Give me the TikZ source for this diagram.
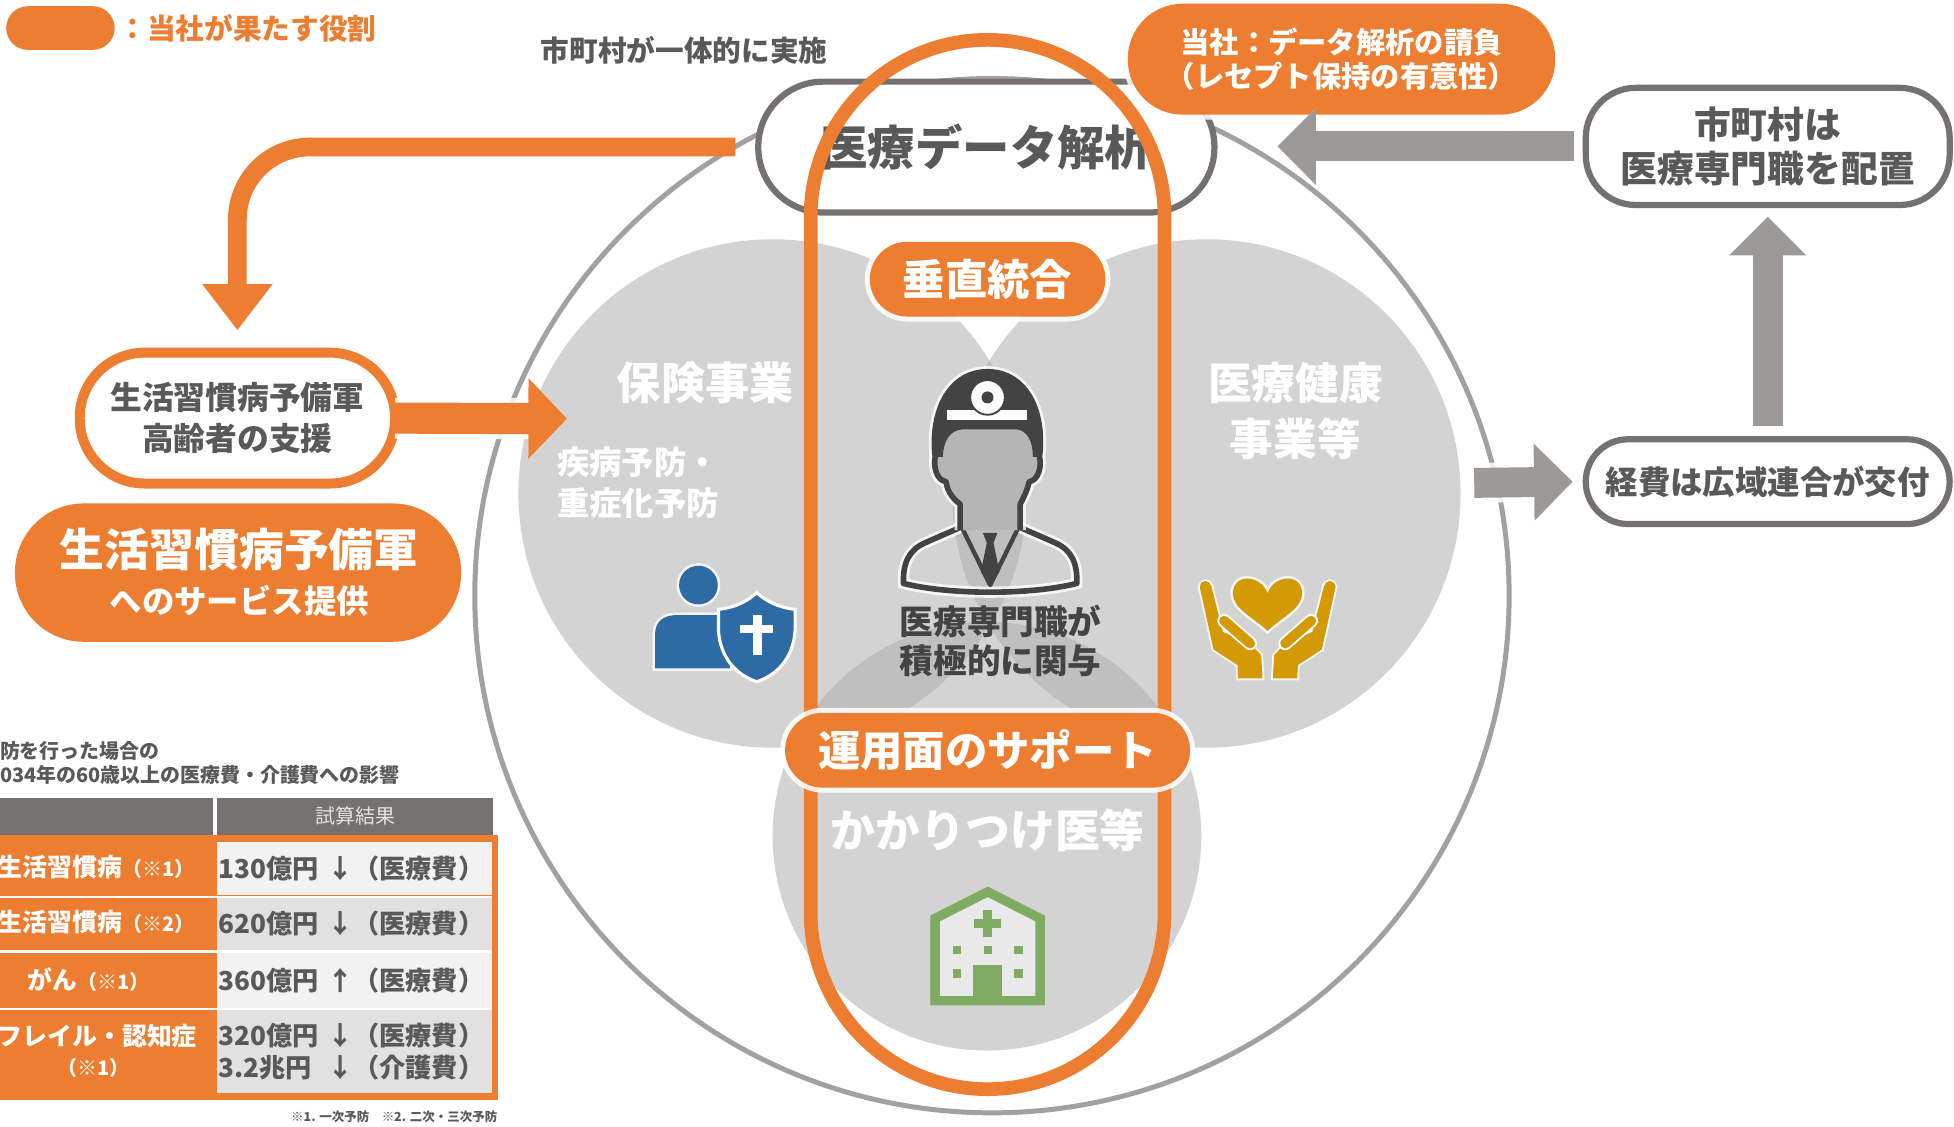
\documentclass[tikz,border=0pt]{standalone}
\usepackage{fontspec}
\setmainfont{Noto Sans CJK JP}
\usetikzlibrary{arrows.meta}
\definecolor{corange}{HTML}{ED7D31}
\definecolor{textdark}{HTML}{595959}
\definecolor{boxgray}{HTML}{767171}
\definecolor{ringgray}{HTML}{A3A09F}
\definecolor{arrowgray}{HTML}{9D9998}
\definecolor{venn}{HTML}{D3D3D3}
\definecolor{venndark}{HTML}{BFBFBF}
\definecolor{iconblue}{HTML}{2E6BA4}
\definecolor{icongold}{HTML}{D49A06}
\definecolor{icongreen}{HTML}{7FAB62}
\definecolor{docdark}{HTML}{434343}
\definecolor{docface}{HTML}{B5B5B5}
\definecolor{hdrgray}{HTML}{767171}
\definecolor{hdrtext}{HTML}{E3E3E3}
\definecolor{cellA}{HTML}{F2F2F2}
\definecolor{cellB}{HTML}{E1E1E1}
\newcommand\fsz[2]{\fontsize{#1pt}{#2pt}\selectfont}
% one cupped hand, in the icon's own units
\newcommand\cuphand{%
  \fill[icongold, preaction={draw=white, line width=3pt, opacity=0.8}] (166,860) circle (17);
  \fill[icongold, preaction={draw=white, line width=3pt, opacity=0.8}] (149,862) -- (183,856) -- (218,995) -- (305,1035) -- (333,1065)
    -- (337,1135) -- (264,1135) -- (262,1095) -- (190,1048) -- cycle;
  \fill[icongold] (166,860) circle (17);
  \draw[icongold, line width=8pt, line cap=round,
    preaction={draw=white, line width=11pt, line cap=round}] (222,962) -- (300,1030);
}

\begin{document}
\begin{tikzpicture}[x=1pt, y=-1pt,
  base/.style={inner sep=0pt, outer sep=0pt, align=center},
  halo/.style={preaction={draw=white, line width=8pt, opacity=0.85}},
  pill/.style={base, fill=corange, text=white},
  outlinebox/.style={base, fill=white, draw=boxgray, line width=5pt, text=textdark},
  whitelabel/.style={base, text=white},
  grayarrow/.style={draw=arrowgray, line width=24pt, -{Triangle[width=60pt,length=31pt]},
    preaction={draw=white, line width=32pt, opacity=0.85}},
  orangearrow/.style={draw=corange, line width=25pt, -{Triangle[width=63pt,length=31pt]},
    preaction={draw=white, line width=33pt, opacity=0.85}},
  cellR/.style={base, anchor=north west, minimum width=220.5pt, text width=218pt,
    inner xsep=1pt, align=left, text=textdark, font=\fsz{21}{25.4}\bfseries}
]
\useasboundingbox (0,0) rectangle (1568,904);
\fill[white] (0,0) rectangle (1568,904);

% outer ring
\draw[ringgray, line width=4pt] (796,478) circle (415);

% three overlapping fields
\fill[venn] (620,396) circle (204);
\fill[venn] (968,396) circle (204);
\fill[venn] (792,671) circle (172);
\begin{scope}
  \clip (620,396) circle (204);
  \fill[venndark] (968,396) circle (204);
  \fill[venndark] (792,671) circle (172);
\end{scope}
\begin{scope}
  \clip (968,396) circle (204);
  \fill[venndark] (792,671) circle (172);
\end{scope}

% field labels
\node[whitelabel, font=\fsz{35.5}{40}\bfseries] (hoken) at (566,307) {保険事業};
\node[whitelabel, anchor=west, align=left, font=\fsz{26}{33}\bfseries] (yobou) at (447,387.5) {疾病予防・\\重症化予防};
\node[whitelabel, font=\fsz{35}{45}\bfseries] (kenkou) at (1039.5,329.5) {医療健康\\事業等};
\node[whitelabel, font=\fsz{36}{40}\bfseries] (kakari) at (792.5,666) {かかりつけ医等};

% data analysis box
\node[outlinebox, rounded corners=52pt, minimum width=366pt, minimum height=105pt,
  font=\fsz{38}{44}\bfseries] (analysis) at (791.5,118) {医療データ解析};

% vertical integration band
\node[base, draw=corange, line width=11pt, rounded corners=141.9pt,
  minimum width=284pt, minimum height=842pt] (vert) at (792.5,453) {};

% person with shield
\begin{scope}[shift={(401.3,280.9)}, scale=0.2675]
  \fill[iconblue, preaction={draw=white, line width=4pt, opacity=0.8}] (595,705) circle (58);
  \fill[iconblue, preaction={draw=white, line width=4pt, opacity=0.8}] (465,955) -- (465,852)
    .. controls (465,815) and (490,795) .. (530,795) -- (690,795) -- (690,955) -- cycle;
  \filldraw[fill=iconblue, draw=white, line width=2.5pt] (655,778)
    .. controls (705,772) and (740,755) .. (770,728)
    .. controls (800,755) and (835,772) .. (885,778) -- (885,840)
    .. controls (880,925) and (830,975) .. (770,995)
    .. controls (710,975) and (660,925) .. (655,840) -- cycle;
  \fill[white] (760,795) rectangle (785,915);
  \fill[white] (720,825) rectangle (820,850);
\end{scope}

% heart in hands
\begin{scope}[shift={(922.95,240.8)}, scale=0.2675]
  \fill[icongold, preaction={draw=white, line width=4pt, opacity=0.8}] (352,880)
    .. controls (335,825) and (248,815) .. (248,882)
    .. controls (250,925) and (305,950) .. (352,992)
    .. controls (399,950) and (454,925) .. (456,882)
    .. controls (456,815) and (369,825) .. (352,880) -- cycle;
  \begin{scope}
    \cuphand
  \end{scope}
  \begin{scope}[shift={(705,0)}, xscale=-1]
    \cuphand
  \end{scope}
\end{scope}

% clinic building
\begin{scope}[shift={(601.9,561.8)}, scale=0.2675]
  \fill[white, opacity=0.5] (555,902) -- (555,655) -- (713,575) -- (870,655) -- (870,902) -- cycle;
  \draw[icongreen, line width=7.5pt] (555,902) -- (555,655) -- (713,575) -- (870,655) -- (870,902) -- cycle;
  \fill[icongreen] (700,630) rectangle (726,710);
  \fill[icongreen] (673,657) rectangle (753,683);
  \foreach \wx/\wy in {620/750, 713/750, 805/750, 620/820, 805/820}
    \fill[icongreen] (\wx-12.5,\wy-12.5) rectangle (\wx+12.5,\wy+12.5);
  \fill[icongreen] (670,795) rectangle (755,905);
\end{scope}

% doctor
\begin{scope}[shift={(682.2,240.8)}, scale=0.2675]
  \draw[docdark, line width=4.5pt, line join=round,
    preaction={draw=white, line width=9pt, opacity=0.8}]
    (335,680) -- (225,728) .. controls (175,750) and (158,790) .. (160,850)
    .. controls (300,885) and (540,885) .. (680,850)
    .. controls (682,790) and (665,750) .. (615,728) -- (505,680);
  \draw[docdark, line width=3.5pt, line join=round] (335,682) -- (420,855) -- (505,682);
  \fill[docdark] (398,698) -- (442,698) -- (430,728) -- (448,815) -- (420,858)
    -- (392,815) -- (410,728) -- cycle;
  \filldraw[fill=docface, draw=docdark, line width=4.5pt, line join=round,
    preaction={draw=white, line width=9pt, opacity=0.8}]
    (330,690) -- (330,612) .. controls (300,590) and (290,565) .. (288,545)
    .. controls (258,540) and (250,500) .. (255,470)
    .. controls (240,330) and (300,215) .. (412,215)
    .. controls (525,215) and (585,330) .. (568,470)
    .. controls (575,500) and (565,540) .. (537,545)
    .. controls (533,565) and (522,590) .. (510,612) -- (510,690);
  \fill[docdark] (255,470) .. controls (240,330) and (300,215) .. (412,215)
    .. controls (525,215) and (585,330) .. (568,470) -- (548,470)
    .. controls (548,420) and (530,392) .. (500,388) -- (335,388)
    .. controls (300,392) and (280,420) .. (278,470) -- cycle;
  \fill[white] (292,330) rectangle (530,360);
  \filldraw[fill=white, draw=docdark, line width=1.5pt] (412,292) circle (52);
  \fill[docdark] (412,292) circle (18);
\end{scope}
\node[base, text=docdark, font=\fsz{27}{31}\bfseries] (kanyo) at (803,514.5) {医療専門職が\\積極的に関与};

% orange role badges on the band
\node[pill, halo, rounded corners=30pt, minimum width=189pt, minimum height=60pt,
  font=\fsz{34}{40}\bfseries] (suichoku) at (792.5,224) {垂直統合};
\node[pill, halo, rounded corners=30pt, minimum width=325pt, minimum height=60pt,
  font=\fsz{34}{40}\bfseries] (unyou) at (792.5,602) {運用面のサポート};
\node[pill, halo, rounded corners=44pt, minimum width=343pt, minimum height=89pt,
  font=\fsz{23.5}{28}\bfseries] (tousha) at (1076.5,47.5) {当社：データ解析の請負\\（レセプト保持の有意性）};

% headings
\node[pill, rounded corners=17.4pt, minimum width=87pt, minimum height=35pt] (legend) at (48.5,22.5) {};
\node[base, anchor=west, text=corange, font=\fsz{23}{26}\bfseries] (legendtext) at (95,22.5) {：当社が果たす役割};
\node[base, text=textdark, font=\fsz{23}{26}\bfseries] (ittai) at (549,40) {市町村が一体的に実施};

% right-hand boxes
\node[outlinebox, rounded corners=40pt, minimum width=292pt, minimum height=94pt,
  font=\fsz{29.5}{35}\bfseries] (haichi) at (1418.5,117.5) {市町村は\\医療専門職を配置};
\node[outlinebox, rounded corners=33.9pt, minimum width=292pt, minimum height=68pt,
  font=\fsz{26}{30}\bfseries] (keihi) at (1418.5,386.5) {経費は広域連合が交付};

% left-hand boxes
\node[base, fill=white, draw=corange, line width=8pt, rounded corners=52pt,
  minimum width=253pt, minimum height=105pt, text=textdark,
  font=\fsz{25.5}{33}\bfseries] (shien) at (190.5,335.5) {生活習慣病予備軍\\高齢者の支援};
\node[pill, halo, rounded corners=55pt, minimum width=358pt, minimum height=111pt] (service) at (191,459.5) {};
\node[whitelabel, font=\fsz{36}{40}\bfseries] (svcA) at (192,441) {生活習慣病予備軍};
\node[whitelabel, font=\fsz{26}{30}\bfseries] (svcB) at (192,482) {へのサービス提供};

% connectors
\coordinate (ringE) at (1183,387.5);
\coordinate (hokenIn) at (455,336);
\draw[grayarrow, shorten <=10.5pt, shorten >=9.5pt] (keihi.north) -- (haichi.south);
\draw[grayarrow] (ringE) -- ([xshift=-10.5pt]keihi.west);
\draw[grayarrow, shorten <=9.5pt, shorten >=50.5pt] (haichi.west) -- (analysis.east |- haichi.west);
\draw[orangearrow] (shien.east) -- (hokenIn);
\draw[draw=corange, line width=15pt, rounded corners=58pt,
  -{Triangle[width=54pt,length=37pt]}, shorten <=18.5pt, shorten >=18pt]
  (analysis.west) -| (shien.north);

% cost table
\node[base, anchor=west, text=textdark, font=\fsz{16}{19}\bfseries] (ttlA) at (0,603) {防を行った場合の};
\node[base, anchor=west, text=textdark, font=\fsz{16}{19}\bfseries] (ttlB) at (0,622) {034年の60歳以上の医療費・介護費への影響};
\node[base, anchor=north west, fill=hdrgray, minimum width=171pt, minimum height=30pt] (hdrL) at (0,640) {};
\node[base, anchor=north west, fill=hdrgray, minimum width=222pt, minimum height=30pt,
  text=hdrtext, font=\fsz{16}{19}] (hdrR) at (174,640) {試算結果};
\node[base, anchor=north west, fill=corange, minimum width=400pt, minimum height=213pt] (tbody) at (0,670) {};
\node[cellR, fill=cellA, minimum height=43pt] (rA) at (174,675.5) {130億円 ↓（医療費）};
\node[cellR, fill=cellB, minimum height=42pt] (rB) at (174,720.5) {620億円 ↓（医療費）};
\node[cellR, fill=cellA, minimum height=44pt] (rC) at (174,764.5) {360億円 ↑（医療費）};
\node[cellR, fill=cellB, minimum height=66.5pt] (rD) at (174,810.5)
  {320億円 ↓（医療費）\\\leavevmode\rlap{3.2兆円}\phantom{320億円} ↓（介護費）};
\foreach \ry in {719.5, 763.5, 809.5}
  \draw[white, line width=1.8pt] (0,\ry) -- (394.5,\ry);
\node[base, anchor=west, text=white, font=\fsz{20}{24}\bfseries] (lA) at (-2,696) {生活習慣病{\fsz{16}{18}（※1）}};
\node[base, anchor=west, text=white, font=\fsz{20}{24}\bfseries] (lB) at (-2,740) {生活習慣病{\fsz{16}{18}（※2）}};
\node[base, text=white, font=\fsz{20}{24}\bfseries] (lC) at (71,786) {がん{\fsz{16}{18}（※1）}};
\node[base, anchor=west, text=white, font=\fsz{20}{24}\bfseries] (lD) at (-2,831) {フレイル・認知症};
\node[base, text=white, font=\fsz{16}{18}\bfseries] (lE) at (75,857) {（※1）};
\node[base, anchor=east, text=textdark, font=\fsz{10}{12}\bfseries] (fnote) at (399,896) {※1. 一次予防　※2. 二次・三次予防};
\end{tikzpicture}
\end{document}
